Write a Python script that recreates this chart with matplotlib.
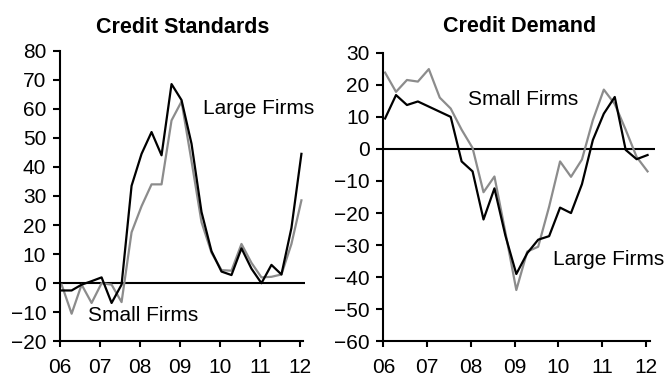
import numpy as np
import matplotlib
matplotlib.use("Agg")
import matplotlib.pyplot as plt

plt.rcParams['font.family'] = ['Liberation Sans', 'DejaVu Sans']

# quarterly survey readings, 2006Q1 - 2012Q1
quarters = 2006.04 + np.arange(25) / 4.0

std_large = [-2.5, -2.5, -0.5, 0.7, 2.0, -6.8, -0.5, 33.5, 44.5, 52, 44, 68.5, 63,
             48, 24.5, 11, 4, 2.8, 12, 5, 0, 6.3, 3, 19, 44.5]
std_small = [-0.5, -10.5, -0.5, -6.8, 0, -0.5, -6.5, 17.5, 26.5, 34, 34, 56, 62.5,
             42, 21, 10.5, 4.5, 4.3, 13.5, 7, 2, 2.2, 3, 13.5, 28.5]

dem_large = [9.5, 16.8, 13.7, 14.8, 13.2, 11.6, 10, -3.9, -7, -22, -12.3, -27, -39,
             -32.5, -28.3, -27.2, -18.3, -20, -11, 2.8, 11, 16.2, -0.3, -3.2, -1.9]
dem_small = [23.8, 17.8, 21.5, 21, 24.9, 16, 12.6, 6, 0.3, -13.5, -8.6, -26, -44,
             -32, -30.5, -18, -3.9, -8.7, -3.3, 9, 18.5, 14, 6, -2.5, -7]

year_ticks = [2006, 2007, 2008, 2009, 2010, 2011, 2012]
year_labels = ['06', '07', '08', '09', '10', '11', '12']

GRAY = '#8c8c8c'
FS = 15

fig = plt.figure(figsize=(6.67, 3.78), dpi=100)
ax1 = fig.add_axes([0.090, 0.097, 0.367, 0.769])
ax2 = fig.add_axes([0.5747, 0.097, 0.4073, 0.7635])


def style(ax, ylim, yticks, xmax, spine_end):
    ax.set_xlim(2006, xmax)
    ax.set_ylim(*ylim)
    ax.set_yticks(yticks)
    ax.set_xticks(year_ticks)
    ax.set_xticklabels(year_labels)
    for s in ['top', 'right']:
        ax.spines[s].set_visible(False)
    for s in ['left', 'bottom']:
        ax.spines[s].set_linewidth(1.5)
        ax.spines[s].set_color('black')
    ax.spines['bottom'].set_bounds(2006, spine_end)
    ax.tick_params(axis='y', direction='out', length=5, width=1.5, pad=5, labelsize=FS)
    ax.tick_params(axis='x', direction='out', length=4, width=1.5, pad=8, labelsize=FS)
    ax.axhline(0, color='black', lw=1.5, zorder=1)
    ax.patch.set_visible(False)


# credit standards
ax1.plot(quarters, std_small, color=GRAY, lw=1.6, zorder=2)
ax1.plot(quarters, std_large, color='black', lw=1.6, zorder=3)
style(ax1, (-20, 80), range(-20, 81, 10), 2012.125, 2012.08)
ax1.set_title('Credit Standards', fontsize=15.5, fontweight='bold', pad=13)
ax1.text(2009.58, 60, 'Large Firms', fontsize=FS, va='center', ha='left')
ax1.text(2006.71, -11, 'Small Firms', fontsize=FS, va='center', ha='left')

# credit demand
ax2.plot(quarters, dem_small, color=GRAY, lw=1.6, zorder=2)
ax2.plot(quarters, dem_large, color='black', lw=1.6, zorder=3)
style(ax2, (-60, 30), range(-60, 31, 10), 2012.21, 2012.1)
ax2.set_title('Credit Demand', fontsize=15.5, fontweight='bold', pad=15)
ax2.text(2007.94, 15.3, 'Small Firms', fontsize=FS, va='center', ha='left')
ax2.text(2009.87, -34.6, 'Large Firms', fontsize=FS, va='center', ha='left')

fig.savefig('out.png', dpi=100)
